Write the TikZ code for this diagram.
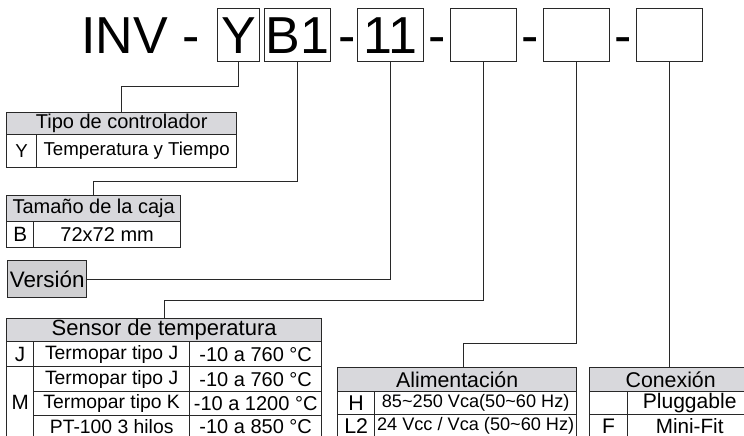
\documentclass[tikz,border=0pt]{standalone}
\usepackage{fontspec}
\setsansfont{Liberation Sans}
\definecolor{hdrgray}{RGB}{216,216,220}
\definecolor{versgray}{RGB}{208,208,210}
\definecolor{rulegray}{RGB}{40,40,40}

\begin{document}
\begin{tikzpicture}[x=0.75pt, y=-0.75pt, font=\sffamily,
  fsize/.style={font=\sffamily\fontsize{#1}{#1}\selectfont},
  codebox/.style={draw=rulegray, line width=1pt, inner sep=0pt, minimum height=39.75pt, anchor=north west, fsize=39},
  bigtxt/.style={inner sep=0pt, anchor=base, fsize=39},
  cell/.style={draw=rulegray, line width=1pt, inner sep=0pt, anchor=north west, fsize=15},
  hdr/.style={cell, fill=hdrgray, fsize=16},
  wire/.style={draw=rulegray, line width=0.8pt}]
\useasboundingbox (0,0) rectangle (744,436);
\clip (0,0) rectangle (744,436);

% Model code
\node[bigtxt, anchor=base west] (inv) at (81,53) {INV -};
\node[codebox, minimum width=31.5pt] (ybox) at (217,8) {Y};
\node[codebox, minimum width=49.5pt] (bbox) at (264,8) {B1};
\node[bigtxt] (d1) at (347,53) {-};
\node[codebox, minimum width=49.5pt] (nbox) at (357,8) {11};
\node[bigtxt] (d2) at (437,53) {-};
\node[codebox, minimum width=49.5pt] (box4) at (450,8) {};
\node[bigtxt] (d3) at (530,53) {-};
\node[codebox, minimum width=49.5pt] (box5) at (543,8) {};
\node[bigtxt] (d4) at (623,53) {-};
\node[codebox, minimum width=49.5pt] (box6) at (636,8) {};

% Tipo de controlador
\node[hdr, fsize=15, minimum width=172.5pt, minimum height=16.5pt] (tipoH) at (6,112) {Tipo de controlador};
\node[cell, fsize=14, minimum width=22.5pt, minimum height=24.75pt] (tipoY) at (6,134) {Y};
\node[cell, fsize=14, minimum width=150pt, minimum height=24.75pt] (tipoYd) at (36,134) {Temperatura y Tiempo};

% Tamano de la caja
\node[hdr, fsize=15, minimum width=130.5pt, minimum height=19.5pt] (cajaH) at (6,195) {Tamaño de la caja};
\node[cell, fsize=15.5, minimum width=20.25pt, minimum height=19.5pt] (cajaB) at (6,221) {B};
\node[cell, minimum width=110.25pt, minimum height=19.5pt] (cajaBd) at (33,221) {72x72 mm};

% Version
\node[cell, fill=versgray, fsize=16.8, minimum width=59.25pt, minimum height=27.75pt] (vers) at (7,260) {Versión};

% Sensor de temperatura
\node[hdr, fsize=16.5, minimum width=236.25pt, minimum height=17.25pt] (sensH) at (6,318) {Sensor de temperatura};
\node[cell, fsize=15.5, minimum width=20.25pt, minimum height=18.75pt] (sensJ) at (6,341) {J};
\node[cell, fsize=14.5, minimum width=117pt, minimum height=18.75pt] (sensJd) at (33,341) {Termopar tipo J};
\node[cell, minimum width=99pt, minimum height=18.75pt] (sensJr) at (189,341) {-10 a 760 °C};
\node[cell, fsize=15.5, minimum width=20.25pt, minimum height=53.6pt] (sensM) at (6,366) {M};
\node[cell, fsize=14.5, minimum width=117pt, minimum height=18.75pt] (sensM1d) at (33,366) {Termopar tipo J};
\node[cell, minimum width=99pt, minimum height=18.75pt] (sensM1r) at (189,366) {-10 a 760 °C};
\node[cell, fsize=14.5, minimum width=117pt, minimum height=18pt] (sensM2d) at (33,391) {Termopar tipo K};
\node[cell, minimum width=99pt, minimum height=18pt] (sensM2r) at (189,391) {-10 a 1200 °C};
\node[cell, fsize=14.5, minimum width=117pt, minimum height=16.1pt] (sensM3d) at (33,415) {PT-100 3 hilos};
\node[cell, minimum width=99pt, minimum height=16.1pt] (sensM3r) at (189,415) {-10 a 850 °C};

% Alimentacion
\node[hdr, minimum width=179.25pt, minimum height=18pt] (alimH) at (337,367) {Alimentación};
\node[cell, fsize=16, minimum width=27.75pt, minimum height=17.25pt] (alimH1) at (337,391) {H};
\node[cell, fsize=13.6, minimum width=151.5pt, minimum height=17.25pt] (alimH1d) at (374,391) {85\textasciitilde250 Vca(50\textasciitilde60 Hz)};
\node[cell, fsize=16, minimum width=27.75pt, minimum height=16.9pt] (alimL2) at (337,414) {L2};
\node[cell, fsize=13.6, minimum width=151.5pt, minimum height=16.9pt] (alimL2d) at (374,414) {24 Vcc / Vca (50\textasciitilde60 Hz)};

% Conexion
\node[hdr, minimum width=121.5pt, minimum height=18pt] (conH) at (589,367) {Conexión};
\node[cell, minimum width=28.5pt, minimum height=17.25pt] (conP) at (589,391) {};
\node[cell, fsize=15.8, minimum width=93pt, minimum height=17.25pt] (conPd) at (627,391) {Pluggable};
\node[cell, fsize=15.8, minimum width=28.5pt, minimum height=16.9pt] (conF) at (589,414) {F};
\node[cell, fsize=15.5, minimum width=93pt, minimum height=16.9pt] (conFd) at (627,414) {Mini-Fit};

% Leader lines
\draw[wire] (ybox.south) -- ++(0,24) -| (tipoH.north);
\draw[wire] (bbox.south) -- ++(0,119) -| (cajaH.north);
\draw[wire] (nbox.south) |- (vers.east);
\draw[wire] (box4.south) -- ++(0,238) -| (sensH.north);
\draw[wire] (box5.south) -- ++(0,281) -| ([xshift=4.9pt]alimH.north);
\draw[wire] (box6.south) -- (box6.south |- conH.north);
\end{tikzpicture}
\end{document}
